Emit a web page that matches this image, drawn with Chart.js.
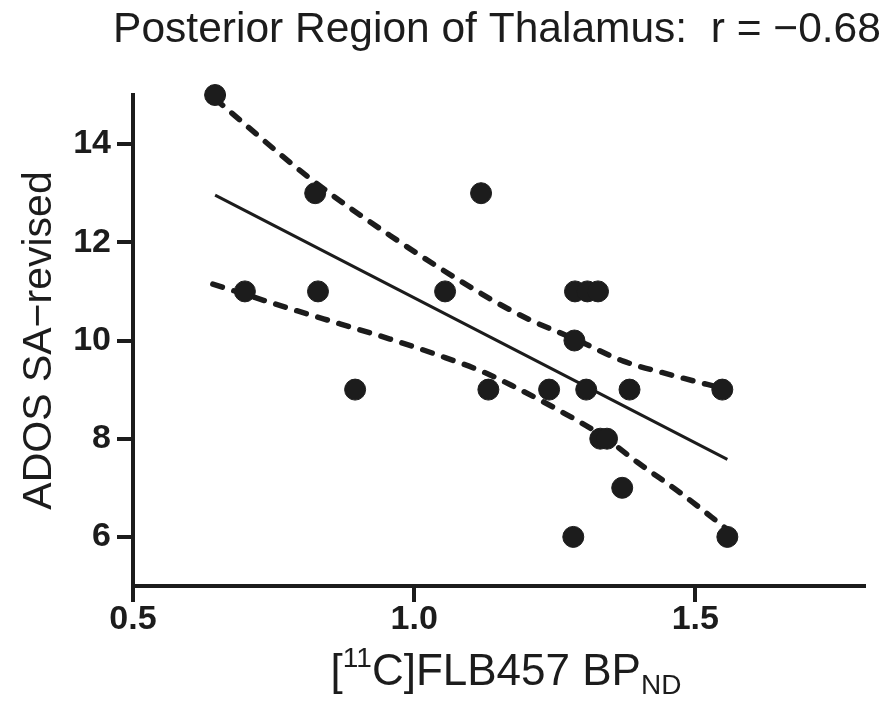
<!DOCTYPE html>
<html>
<head>
<meta charset="utf-8">
<script src="https://cdn.jsdelivr.net/npm/chart.js@4"></script>
<style>
  html, body { margin: 0; padding: 0; background: #fff; }
  #wrap { width: 894px; height: 704px; }
</style>
</head>
<body>
<div id="wrap"><canvas id="myChart" width="894" height="704"></canvas></div>
<script>
const xTicks = [0.5, 1.0, 1.5];
const yTicks = [6, 8, 10, 12, 14];

// each subject: BPND and ADOS score
const bpX = [0.646, 0.699, 0.824, 0.829, 0.895, 1.055, 1.119, 1.132, 1.240, 1.286, 1.308, 1.327,
  1.285, 1.283, 1.306, 1.331, 1.343, 1.370, 1.383, 1.548, 1.557];
const adosY = [15, 11, 13, 11, 9, 11, 13, 9, 9, 11, 11, 11, 10, 6, 9, 8, 8, 7, 9, 9, 6];

// regression line
const fitX = [0.646, 1.557];
const fitY = [12.96, 7.58];

// 95% confidence bands
const upperX = [0.646, 0.815, 0.957, 1.135, 1.206, 1.286, 1.372, 1.45, 1.557];
const upperY = [14.92, 13.3, 12.14, 10.85, 10.42, 10.03, 9.58, 9.32, 9.0];
const lowerX = [0.642, 0.779, 0.868, 0.957, 1.046, 1.123, 1.176, 1.254, 1.336, 1.397, 1.473, 1.557];
const lowerY = [11.15, 10.65, 10.34, 10.03, 9.69, 9.36, 9.07, 8.6, 8.05, 7.52, 6.9, 6.15];

const ink = "#1c1c1c";
const font = '"Liberation Sans", Arial, sans-serif';

function pairs(xs, ys) {
  return xs.map(function (x, i) { return { x: x, y: ys[i] }; });
}

const textPlugin = {
  id: "textPlugin",
  afterDraw: function (chart) {
    const ctx = chart.ctx;
    ctx.save();
    ctx.fillStyle = ink;
    ctx.textBaseline = "alphabetic";

    // title
    ctx.font = "42.5px " + font;
    ctx.textAlign = "center";
    ctx.fillText("Posterior Region of Thalamus:  r = \u22120.68", 497, 42);

    // x axis title with super/subscript
    const parts = [
      { t: "[", size: 44, dy: 0 },
      { t: "11", size: 28, dy: -18 },
      { t: "C]FLB457 BP", size: 44, dy: 0 },
      { t: "ND", size: 28, dy: 9 }
    ];
    let total = 0;
    parts.forEach(function (p) {
      ctx.font = p.size + "px " + font;
      p.w = ctx.measureText(p.t).width;
      total += p.w;
    });
    let x = 506 - total / 2;
    ctx.textAlign = "left";
    parts.forEach(function (p) {
      ctx.font = p.size + "px " + font;
      ctx.fillText(p.t, x, 685 + p.dy);
      x += p.w;
    });
    ctx.restore();
  }
};

const ctx = document.querySelector("#myChart");
new Chart(ctx, {
  type: "scatter",
  data: {
    datasets: [
      {
        label: "subjects",
        data: pairs(bpX, adosY),
        backgroundColor: ink,
        borderColor: ink,
        pointRadius: 10.5,
        pointHoverRadius: 10.5,
        clip: false
      },
      {
        label: "fit",
        data: pairs(fitX, fitY),
        showLine: true,
        borderColor: ink,
        borderWidth: 3,
        pointRadius: 0
      },
      {
        label: "upper",
        data: pairs(upperX, upperY),
        showLine: true,
        borderColor: ink,
        borderWidth: 5.5,
        borderDash: [10, 12],
        borderCapStyle: "round",
        cubicInterpolationMode: "monotone",
        pointRadius: 0,
        clip: false
      },
      {
        label: "lower",
        data: pairs(lowerX, lowerY),
        showLine: true,
        borderColor: ink,
        borderWidth: 5.5,
        borderDash: [10, 12],
        borderCapStyle: "round",
        cubicInterpolationMode: "monotone",
        pointRadius: 0
      }
    ]
  },
  options: {
    responsive: false,
    maintainAspectRatio: false,
    animation: false,
    layout: { padding: { top: 95, right: 30, left: 0, bottom: 0 } },
    plugins: {
      legend: { display: false },
      tooltip: { enabled: false },
      title: { display: false }
    },
    scales: {
      x: {
        type: "linear",
        min: 0.5,
        max: 1.8,
        afterBuildTicks: function (scale) {
          scale.ticks = xTicks.map(function (v) { return { value: v }; });
        },
        afterFit: function (scale) { scale.height = 118; },
        border: { display: true, color: ink, width: 4 },
        grid: { drawOnChartArea: false, drawTicks: true, tickLength: 16, color: ink, lineWidth: 4 },
        ticks: {
          color: ink,
          padding: -3,
          maxRotation: 0,
          font: { family: font, size: 34, weight: "bold" },
          callback: function (v) { return Number(v).toFixed(1); }
        }
      },
      y: {
        type: "linear",
        min: 5,
        max: 15,
        afterBuildTicks: function (scale) {
          scale.ticks = yTicks.map(function (v) { return { value: v }; });
        },
        afterFit: function (scale) { scale.width = 133; },
        border: { display: true, color: ink, width: 4 },
        grid: { drawOnChartArea: false, drawTicks: true, tickLength: 16, color: ink, lineWidth: 4 },
        title: {
          display: true,
          text: "ADOS SA\u2212revised",
          color: ink,
          font: { family: font, size: 41 },
          padding: { top: 15, bottom: 0 }
        },
        ticks: {
          color: ink,
          padding: 6,
          font: { family: font, size: 34, weight: "bold" }
        }
      }
    }
  },
  plugins: [textPlugin]
});
</script>
</body>
</html>
